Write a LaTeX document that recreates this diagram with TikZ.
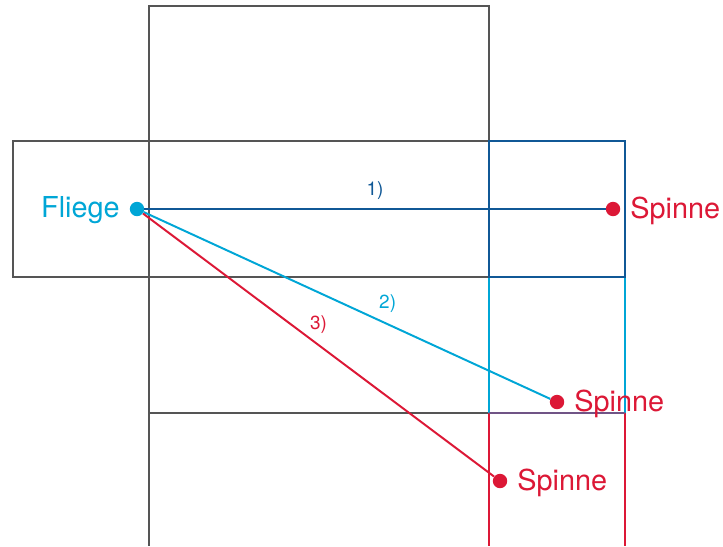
\documentclass[tikz,border=0pt]{standalone}
\usepackage{fontspec}
\setmainfont{TeX Gyre Heros}
\usepackage{xcolor}
\usepackage{tikz}
\usetikzlibrary{positioning}

\definecolor{netgray}{RGB}{85,85,85}
\definecolor{darkblue}{RGB}{16,88,150}
\definecolor{lightblue}{RGB}{0,166,214}
\definecolor{spiderred}{RGB}{220,24,54}
\definecolor{mixpurple}{RGB}{112,84,134}

\begin{document}
\begin{tikzpicture}[
    x=0.025cm, y=-0.025cm,
    node distance=0.24cm,
    net/.style={draw=netgray, line width=0.8pt},
    face/.style={line width=1.3pt},
    dot/.style={circle, fill, inner sep=0pt, minimum size=0.36cm},
    tag/.style={inner sep=0pt, font=\fontsize{20.5}{24}\selectfont},
    num/.style={font=\fontsize{13.5}{16}\selectfont},
    way/.style={line width=1.4pt}
]
\useasboundingbox (0,0) rectangle (723,546);

% unfolded box
\draw[net] (149,6) rectangle (489,141);
\draw[net] (13,141) rectangle (149,277);
\draw[net] (149,141) -- (489,141);
\draw[net] (149,277) -- (489,277);
\draw[net] (149,413) -- (489,413);
\draw[net] (149,141) -- (149,546);

% right column
\draw[face, lightblue] (489,277) -- (489,413) (625,277) -- (625,413);
\draw[face, spiderred] (489,413) -- (489,546) (625,413) -- (625,546);
\draw[face, mixpurple] (489,413) -- (625,413);
\draw[face, darkblue] (489,141) rectangle (625,277);

% fly and spiders
\node[dot, lightblue] (fliege) at (137,209) {};
\node[tag, lightblue, left=of fliege, yshift=-1pt] (fliegetxt) {Fliege};
\node[dot, spiderred] (spinneA) at (613,209) {};
\node[tag, spiderred, right=of spinneA, yshift=-1pt] (spinneAtxt) {Spinne};
\node[dot, spiderred] (spinneB) at (557,402) {};
\node[tag, spiderred, right=of spinneB, yshift=-1pt] (spinneBtxt) {Spinne};
\node[dot, spiderred] (spinneC) at (500,481) {};
\node[tag, spiderred, right=of spinneC, yshift=-1pt] (spinneCtxt) {Spinne};

% paths
\draw[way, darkblue] (fliege) -- node[num, midway, above=3pt] {1)} (spinneA);
\draw[way, lightblue] (fliege) -- node[num, pos=0.6, above=4pt] {2)} (spinneB);
\draw[way, spiderred] (fliege) -- node[num, pos=0.5, above=4pt] {3)} (spinneC);

\end{tikzpicture}
\end{document}
